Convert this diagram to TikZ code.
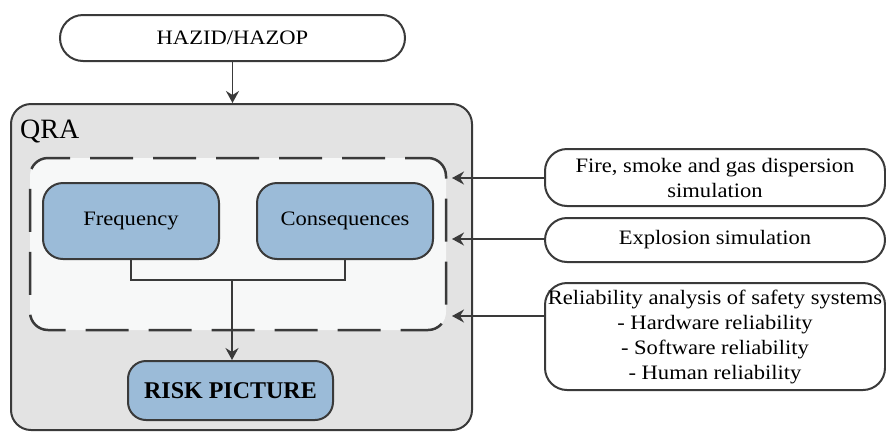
\documentclass[tikz,border=0pt]{standalone}
\usepackage{fontspec}
\setmainfont[FakeStretch=1.1]{Liberation Serif}
\newfontfamily\plainserif{Liberation Serif}
\usetikzlibrary{arrows.meta}
\definecolor{lin}{HTML}{3A3A3A}
\definecolor{qrafill}{HTML}{E3E3E3}
\definecolor{innerfill}{HTML}{F7F8F8}
\definecolor{bluefill}{HTML}{9BBBD8}
\tikzset{
  box/.style={draw=lin, line width=2pt, rectangle, align=center, inner sep=0pt, font=\fontsize{20.5}{25}\selectfont},
  bluebox/.style={box, fill=bluefill, minimum width=176pt, minimum height=76pt, rounded corners=20pt},
  whitebox/.style={box, fill=white, minimum width=340pt, rounded corners=22pt},
  arr/.style={draw=lin, line width=1.8pt, -{Stealth[length=12pt,width=13pt,inset=4pt]}},
  conn/.style={draw=lin, line width=1.8pt}
}
\begin{document}
\begin{tikzpicture}[x=1pt,y=-1pt]
\useasboundingbox (0,0) rectangle (886,432);
\node[box, fill=white, minimum width=345pt, minimum height=46pt, rounded corners=23pt] (hazid) at (232.5,38) {HAZID/HAZOP};
\node[box, fill=qrafill, minimum width=461pt, minimum height=326pt, rounded corners=20pt] (qra) at (241.5,267) {};
\node[anchor=north west, inner sep=0pt, font=\plainserif\fontsize{28}{30}\selectfont] (qralabel) at (20,120) {QRA};
\node[draw=lin, line width=2.5pt, dash pattern=on 43pt off 20pt, dash phase=20pt, fill=innerfill, rounded corners=18pt, minimum width=416pt, minimum height=172pt, inner sep=0pt] (inner) at (238,244) {};
\node[bluebox] (freq) at (131,221) {Frequency};
\node[bluebox] (cons) at (345,221) {Consequences};
\node[box, fill=bluefill, minimum width=205pt, minimum height=59pt, rounded corners=18pt, font=\plainserif\fontsize{24}{28}\selectfont\bfseries] (risk) at (230.5,390.5) {RISK PICTURE};
\coordinate (j) at (232,280);
\draw[conn] (freq.south) |- (j) -| (cons.south);
\draw[arr] (j) -- (j |- risk.north);
\draw[arr] (hazid.south) -- (hazid.south |- qra.north);
\node[whitebox, minimum height=57pt] (fire) at (715,177.5) {Fire, smoke and gas dispersion\\simulation};
\node[whitebox, minimum height=44pt] (expl) at (715,240) {Explosion simulation};
\node[whitebox, minimum height=107pt] (rel) at (715,336.5) {Reliability analysis of safety systems\\- Hardware reliability\\- Software reliability\\- Human reliability};
\coordinate (t1) at (452,178);
\coordinate (t2) at (452,239);
\coordinate (t3) at (452,316);
\draw[arr] (fire.west |- t1) -- (t1);
\draw[arr] (expl.west |- t2) -- (t2);
\draw[arr] (rel.west |- t3) -- (t3);
\end{tikzpicture}
\end{document}
